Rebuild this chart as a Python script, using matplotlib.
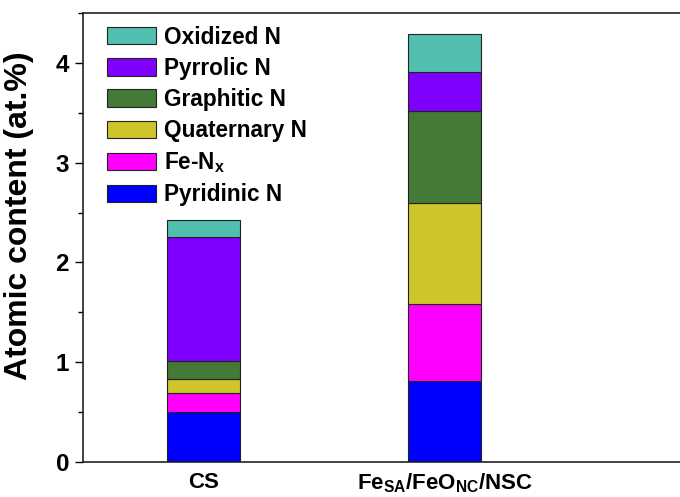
import matplotlib
matplotlib.use("Agg")
import matplotlib.pyplot as plt
from matplotlib.ticker import MultipleLocator

plt.rcParams['font.family'] = ['Liberation Sans', 'DejaVu Sans']
plt.rcParams['font.weight'] = 'bold'
plt.rcParams['mathtext.default'] = 'bf'

samples = ["CS", r"Fe$_{\mathregular{SA}}$/FeO$_{\mathregular{NC}}$/NSC"]
species = ["Pyridinic N", r"Fe-N$_{\mathregular{x}}$", "Quaternary N",
           "Graphitic N", "Pyrrolic N", "Oxidized N"]
pyridinic = [0.50, 0.81]
fe_nx = [0.19, 0.77]
quaternary = [0.14, 1.02]
graphitic = [0.18, 0.92]
pyrrolic = [1.24, 0.39]
oxidized = [0.18, 0.38]
colors = ["#0000FF", "#FF00FF", "#CEC52B", "#447A35", "#8000FF", "#52BEAF"]

series = [pyridinic, fe_nx, quaternary, graphitic, pyrrolic, oxidized]

fig = plt.figure(figsize=(6.8, 4.97), dpi=100)
ax = fig.add_axes([0.122, 0.0704, 0.886, 0.9035])

x = [1, 2]
bottom = [0.0, 0.0]
handles = []
for name, vals, col in zip(species, series, colors):
    b = ax.bar(x, vals, width=0.3, bottom=bottom, color=col,
               edgecolor="#222222", linewidth=0.8, label=name)
    handles.append(b)
    bottom = [bt + v for bt, v in zip(bottom, vals)]

ax.set_xlim(0.5, 3.0)
ax.set_ylim(0, 4.5)
ax.set_xticks(x)
ax.set_xticklabels(samples, fontsize=16, fontweight='bold')
ax.tick_params(axis='x', length=0, pad=7)
ax.yaxis.set_major_locator(MultipleLocator(1))
ax.yaxis.set_minor_locator(MultipleLocator(0.5))
ax.tick_params(axis='y', which='major', length=6, width=1, labelsize=17.5,
               direction='out', pad=4)
ax.tick_params(axis='y', which='minor', length=3.5, width=1, direction='out')
for lab in ax.get_yticklabels():
    lab.set_fontweight('bold')
ax.set_ylabel("Atomic content (at.%)", fontsize=23, fontweight='bold', labelpad=4)
ax.yaxis.set_label_coords(-0.082, 0.548)

ax.spines['right'].set_visible(False)
for s in ['left', 'top', 'bottom']:
    ax.spines[s].set_linewidth(1.2)
    ax.spines[s].set_color("#222222")

leg = ax.legend(handles[::-1], species[::-1], loc='upper left',
                bbox_to_anchor=(0.018, 1.002), frameon=False, fontsize=16.3,
                handlelength=2.15, handleheight=0.8, handletextpad=0.35,
                labelspacing=0.36, borderaxespad=0.2)
for t in leg.get_texts():
    t.set_fontweight('bold')

fig.savefig("out.png", dpi=100)
